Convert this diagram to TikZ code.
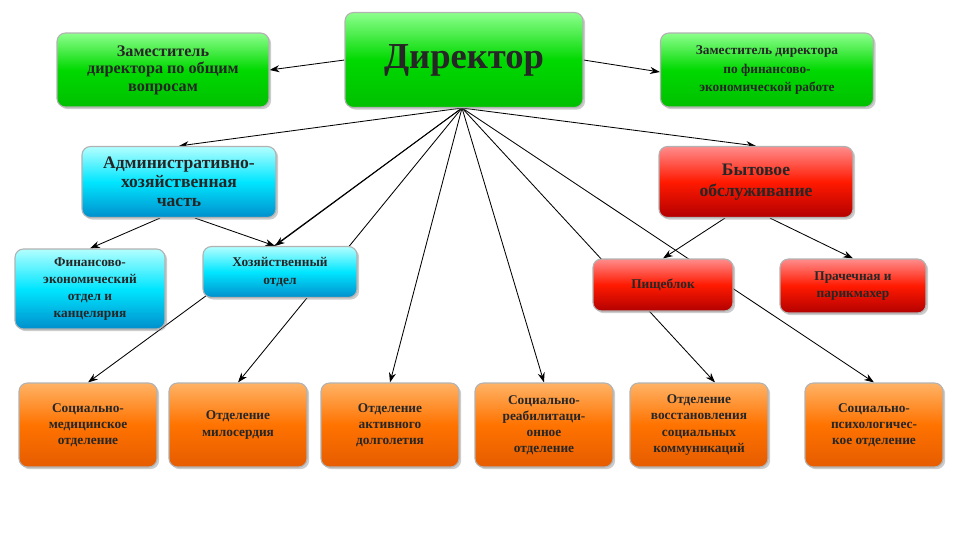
\documentclass[tikz,border=0pt]{standalone}
\usepackage{fontspec}
\setmainfont{Liberation Serif}
\usetikzlibrary{arrows.meta,shadows}
\pgfdeclarelayer{bg}
\pgfsetlayers{bg,main}
\tikzset{
  box/.style={draw=gray!60, line width=0.8pt, rounded corners=6pt, align=center,
    font=\bfseries\fontsize{11.5}{12.5}\selectfont, text=black!85, inner sep=2pt,
    drop shadow={shadow xshift=1.5pt, shadow yshift=-1.5pt, opacity=0.4}},
  greenbox/.style={box, top color=green!45!white, bottom color=green!75!black, middle color=green!85!black},
  bluebox/.style={box, top color=cyan!30!white, bottom color=cyan!70!blue!80!black, middle color=cyan!90!blue},
  redbox/.style={box, top color=red!45!white, bottom color=red!70!black, middle color=red!80!orange},
  orangebox/.style={box, top color=orange!60!white, bottom color=orange!80!red!90!black, middle color=orange!90!red},
  link/.style={-{Stealth[length=7pt,width=5pt]}, line width=0.6pt, black}
}
\begin{document}
\begin{tikzpicture}[x=0.025cm,y=-0.025cm]
\useasboundingbox (0,0) rectangle (960,540);
% top row
\node[greenbox, minimum width=238*0.025cm, minimum height=95*0.025cm,
  font=\bfseries\fontsize{26}{28}\selectfont] (dir) at (464,60) {Директор};
\node[greenbox, minimum width=212*0.025cm, minimum height=74*0.025cm] (zam1) at (163,70)
  {Заместитель\\директора по общим\\вопросам};
\node[greenbox, minimum width=213*0.025cm, minimum height=74*0.025cm,
  font=\bfseries\fontsize{9.5}{13}\selectfont] (zam2) at (767,70)
  {Заместитель директора\\по финансово-\\экономической работе};
% second row
\node[bluebox, minimum width=194*0.025cm, minimum height=71*0.025cm,
  font=\bfseries\fontsize{12.5}{13.5}\selectfont] (admin) at (179,182)
  {Административно-\\хозяйственная\\часть};
\node[redbox, minimum width=194*0.025cm, minimum height=71*0.025cm,
  font=\bfseries\fontsize{12.5}{14.5}\selectfont] (byt) at (756,182)
  {Бытовое\\обслуживание};
% third row
\node[bluebox, minimum width=150*0.025cm, minimum height=80*0.025cm,
  font=\bfseries\fontsize{9.5}{12}\selectfont] (fin) at (90,289)
  {Финансово-\\экономический\\отдел и\\канцелярия};
\node[bluebox, minimum width=154*0.025cm, minimum height=51*0.025cm,
  font=\bfseries\fontsize{9.5}{13}\selectfont] (khoz) at (280,272)
  {Хозяйственный\\отдел};
\node[redbox, minimum width=140*0.025cm, minimum height=52*0.025cm,
  font=\bfseries\fontsize{9.5}{12}\selectfont] (pish) at (663,285) {Пищеблок};
\node[redbox, minimum width=146*0.025cm, minimum height=54*0.025cm,
  font=\bfseries\fontsize{9.5}{12.5}\selectfont] (prach) at (853,286)
  {Прачечная и\\парикмахер};
% bottom row
\foreach \nm/\cx/\txt in {
  smed/88/{Социально-\\медицинское\\отделение},
  milo/238/{Отделение\\милосердия},
  aktiv/390/{Отделение\\активного\\долголетия},
  reab/544/{Социально-\\реабилитаци-\\онное\\отделение},
  vost/699/{Отделение\\восстановления\\социальных\\коммуникаций},
  psih/874/{Социально-\\психологичес-\\кое отделение}}
  \node[orangebox, minimum width=138*0.025cm, minimum height=84*0.025cm,
    font=\bfseries\fontsize{9.5}{11.5}\selectfont] (\nm) at (\cx,425) {\txt};
% connectors
\begin{pgfonlayer}{bg}
\coordinate (dbot) at (462,108);
\draw[link] (dir.west |- 0,60) -- (zam1.east |- 0,70);
\draw[link] (dir.east |- 0,60) -- (zam2.west |- 0,72);
\draw[link] (dbot) -- (admin.north);
\draw[link] (dbot) -- (khoz.north -| 275,0);
\draw[link] (dbot) -- (smed.north);
\draw[link] (dbot) -- (milo.north);
\draw[link] (dbot) -- (aktiv.north);
\draw[link] (dbot) -- (reab.north);
\draw[link] (dbot) -- (vost.north -| 715,0);
\draw[link] (dbot) -- (psih.north);
\draw[link] (dbot) -- (byt.north);
\draw[link] (admin.south -| 160,0) -- (fin.north);
\draw[link] (admin.south -| 195,0) -- (khoz.north -| 275,0);
\draw[link] (byt.south -| 725,0) -- (pish.north);
\draw[link] (byt.south -| 770,0) -- (prach.north);
\end{pgfonlayer}
\end{tikzpicture}
\end{document}
